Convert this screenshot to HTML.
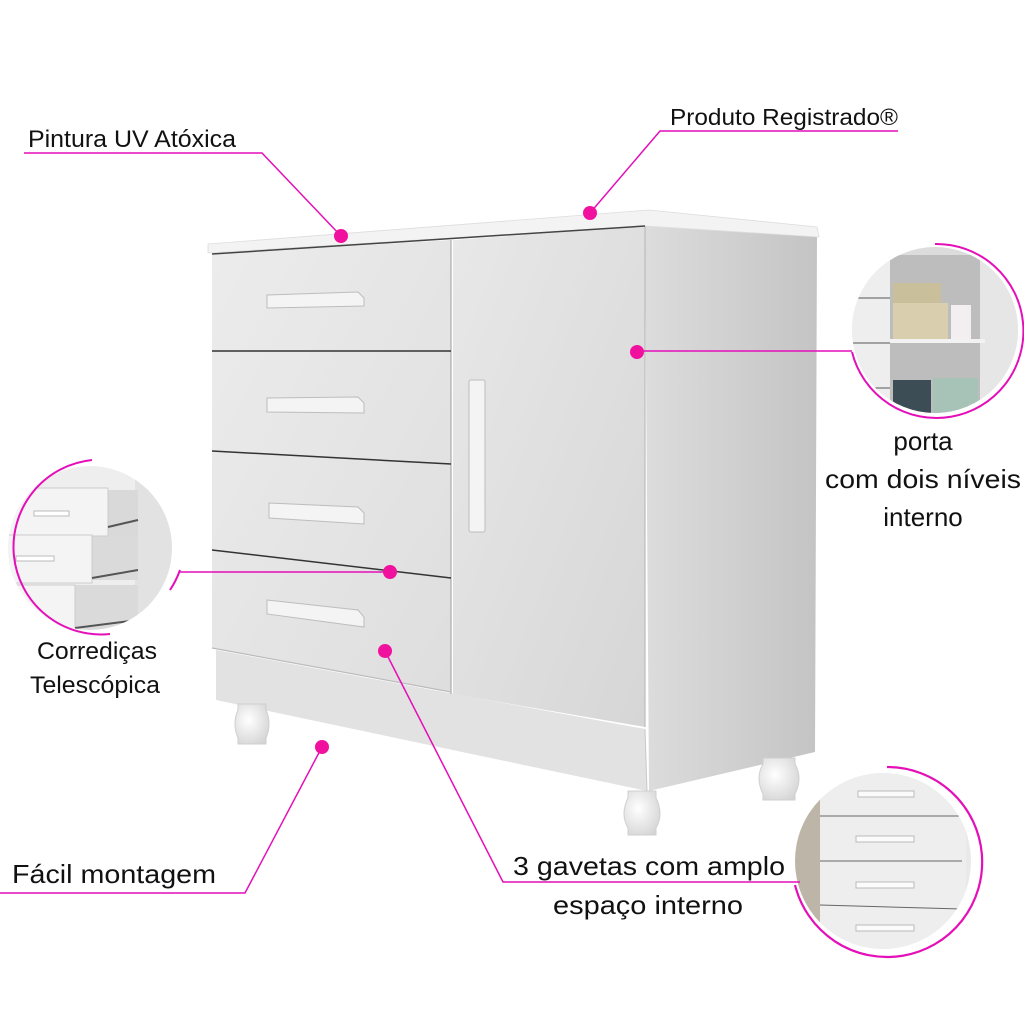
<!DOCTYPE html>
<html><head><meta charset="utf-8"><style>
html,body{margin:0;padding:0;background:#fff;}
svg{display:block;}
text{font-family:"Liberation Sans",sans-serif;fill:#111;}
</style></head><body>
<svg width="1024" height="1024" viewBox="0 0 1024 1024" xmlns="http://www.w3.org/2000/svg">
<defs>
<linearGradient id="side" x1="0" y1="0" x2="1" y2="0"><stop offset="0" stop-color="#dcdcdc"/><stop offset="1" stop-color="#c4c4c4"/></linearGradient>
<linearGradient id="front" x1="0" y1="0" x2="1" y2="1"><stop offset="0" stop-color="#ececec"/><stop offset="1" stop-color="#dedede"/></linearGradient>
<linearGradient id="door" x1="0" y1="0" x2="1" y2="1"><stop offset="0" stop-color="#e8e8e8"/><stop offset="1" stop-color="#d6d6d6"/></linearGradient>
<radialGradient id="foot" cx="0.4" cy="0.4" r="0.7"><stop offset="0" stop-color="#ffffff"/><stop offset="1" stop-color="#d4d4d4"/></radialGradient>
<clipPath id="c1"><circle cx="935" cy="330" r="83"/></clipPath>
<clipPath id="c2"><circle cx="90" cy="548" r="82"/></clipPath>
<clipPath id="c3"><circle cx="883" cy="861" r="88"/></clipPath>
</defs>

<!-- cabinet side -->
<polygon points="645,224 817,237 815,752 649,791" fill="url(#side)"/>
<!-- plinth front -->
<polygon points="216,650 645,729 647,791 216,700" fill="#e2e2e2"/>
<line x1="645" y1="729" x2="647" y2="791" stroke="#c8c8c8"/>
<!-- drawers front -->
<polygon points="212,254 451,240 451,692 212,648" fill="url(#front)"/>
<!-- door -->
<polygon points="453,240 645,226 645,727 453,694" fill="url(#door)"/>
<line x1="451" y1="240" x2="451" y2="694" stroke="#aaa" stroke-width="1.2"/>
<line x1="645" y1="226" x2="645" y2="727" stroke="#bbb" stroke-width="1.2"/>
<!-- drawer lines -->
<line x1="212" y1="351" x2="451" y2="351" stroke="#333" stroke-width="1.5"/>
<line x1="212" y1="451" x2="451" y2="464" stroke="#333" stroke-width="1.5"/>
<line x1="212" y1="550" x2="451" y2="578" stroke="#333" stroke-width="1.5"/>
<line x1="212" y1="648" x2="451" y2="692" stroke="#bbb" stroke-width="1.2"/>
<!-- top slab -->
<polygon points="208,244 649,210 817,227 819,237 645,226 208,253" fill="#f3f3f3" stroke="#ddd" stroke-width="0.8"/>
<line x1="212" y1="254" x2="645" y2="226" stroke="#444" stroke-width="1.5"/>
<!-- handles -->
<g fill="#f4f4f4" stroke="#bdbdbd" stroke-width="1">
<polygon points="267,295 358,292 364,298 364,306 267,308"/>
<polygon points="267,398 358,397 364,403 364,413 267,412"/>
<polygon points="269,503 358,507 364,513 364,524 269,518"/>
<polygon points="267,600 358,610 364,617 364,627 267,614"/>
<rect x="469" y="380" width="16" height="152" rx="2"/>
</g>
<!-- feet -->
<g fill="url(#foot)" stroke="#cfcfcf">
<path d="M238,704 h28 v6 q6,14 0,28 v6 h-28 v-6 q-6,-14 0,-28z"/>
<path d="M628,791 h28 v7 q8,16 0,30 v7 h-28 v-7 q-8,-14 0,-30z"/>
<path d="M763,758 h32 v6 q8,14 0,30 v6 h-32 v-6 q-8,-16 0,-30z"/>
</g>

<!-- circle 1: interior -->
<g clip-path="url(#c1)">
<rect x="850" y="245" width="170" height="170" fill="#dcdcdc"/>
<rect x="850" y="245" width="40" height="170" fill="#eeeeee"/>
<rect x="890" y="255" width="90" height="160" fill="#bdbdbd"/>
<rect x="980" y="250" width="40" height="170" fill="#e6e6e6"/>
<rect x="893" y="283" width="48" height="20" fill="#c9bf9a"/>
<rect x="893" y="303" width="55" height="36" fill="#d9cfae"/>
<rect x="951" y="305" width="20" height="34" fill="#f3eef0"/>
<rect x="890" y="339" width="95" height="4" fill="#f2f2f2"/>
<rect x="893" y="380" width="38" height="35" fill="#3d4d55"/>
<rect x="933" y="378" width="45" height="37" fill="#a7c3b8"/>
<line x1="850" y1="298" x2="890" y2="298" stroke="#555"/>
<line x1="850" y1="343" x2="890" y2="343" stroke="#555"/>
<line x1="850" y1="388" x2="890" y2="388" stroke="#555"/>
</g>
<path d="M935,244 A87,87 0 1 1 852,352" fill="none" stroke="#e40fb8" stroke-width="2"/>

<!-- circle 2: drawers -->
<g clip-path="url(#c2)">
<rect x="5" y="465" width="170" height="170" fill="#eeeeee"/>
<rect x="135" y="465" width="40" height="170" fill="#e2e2e2"/>
<rect x="108" y="490" width="30" height="45" fill="#d9d9d9"/>
<rect x="92" y="535" width="46" height="45" fill="#dadada"/>
<rect x="75" y="585" width="63" height="45" fill="#dadada"/>
<rect x="5" y="488" width="103" height="48" fill="#f4f4f4" stroke="#ccc"/>
<rect x="5" y="535" width="87" height="48" fill="#f4f4f4" stroke="#ccc"/>
<rect x="5" y="585" width="70" height="50" fill="#f4f4f4" stroke="#ccc"/>
<rect x="34" y="511" width="35" height="5" fill="#fff" stroke="#bbb"/>
<rect x="16" y="556" width="38" height="5" fill="#fff" stroke="#bbb"/>
<line x1="108" y1="527" x2="138" y2="520" stroke="#555" stroke-width="2"/>
<line x1="92" y1="578" x2="138" y2="570" stroke="#555" stroke-width="2"/>
<line x1="75" y1="628" x2="138" y2="620" stroke="#555" stroke-width="2"/>
</g>
<path d="M92,460 A87,87 0 1 0 110,634" fill="none" stroke="#e40fb8" stroke-width="2"/>
<path d="M180,570 A90,90 0 0 1 170,590" fill="none" stroke="#e40fb8" stroke-width="2"/>

<!-- circle 3: chest -->
<g clip-path="url(#c3)">
<rect x="795" y="773" width="180" height="180" fill="#e9e9e9"/>
<rect x="795" y="773" width="25" height="180" fill="#bdb6a8"/>
<rect x="820" y="773" width="146" height="180" fill="#eeeeee"/>
<line x1="820" y1="816" x2="962" y2="816" stroke="#666"/>
<line x1="820" y1="861" x2="962" y2="861" stroke="#666"/>
<line x1="820" y1="905" x2="962" y2="909" stroke="#666"/>
<g fill="#fbfbfb" stroke="#bbb">
<rect x="858" y="791" width="56" height="6"/>
<rect x="856" y="836" width="58" height="6"/>
<rect x="856" y="882" width="58" height="6"/>
<rect x="856" y="925" width="58" height="6"/>
</g>
</g>
<path d="M887,767 A95,95 0 1 1 795,885" fill="none" stroke="#e40fb8" stroke-width="2.2"/>

<!-- callout lines -->
<g stroke="#e40fb8" stroke-width="1.5" fill="none">
<polyline points="24,153 262,153 341,236"/>
<polyline points="898,131 660,131 590,213"/>
<line x1="637" y1="351" x2="852" y2="351"/>
<line x1="180" y1="572" x2="390" y2="572"/>
<polyline points="0,893 245,893 322,747"/>
<polyline points="385,651 503,882 800,882"/>
</g>
<g fill="#f0129e">
<circle cx="341" cy="236" r="7"/>
<circle cx="590" cy="213" r="7"/>
<circle cx="637" cy="352" r="7"/>
<circle cx="390" cy="572" r="7"/>
<circle cx="385" cy="651" r="7"/>
<circle cx="322" cy="747" r="7"/>
</g>

<!-- labels -->
<text x="28" y="147" font-size="24" textLength="208" lengthAdjust="spacingAndGlyphs">Pintura UV Atóxica</text>
<text x="670" y="125" font-size="23" textLength="228" lengthAdjust="spacingAndGlyphs">Produto Registrado®</text>
<text x="923" y="450" font-size="26" text-anchor="middle">porta</text>
<text x="923" y="488" font-size="26" text-anchor="middle" textLength="196" lengthAdjust="spacingAndGlyphs">com dois níveis</text>
<text x="923" y="526" font-size="26" text-anchor="middle">interno</text>
<text x="97" y="659" font-size="24" text-anchor="middle" textLength="120" lengthAdjust="spacingAndGlyphs">Corrediças</text>
<text x="95" y="693" font-size="24" text-anchor="middle" textLength="130" lengthAdjust="spacingAndGlyphs">Telescópica</text>
<text x="12" y="883" font-size="26" textLength="204" lengthAdjust="spacingAndGlyphs">Fácil montagem</text>
<text x="513" y="875" font-size="26" textLength="272" lengthAdjust="spacingAndGlyphs">3 gavetas com amplo</text>
<text x="553" y="914" font-size="26" textLength="190" lengthAdjust="spacingAndGlyphs">espaço interno</text>
</svg>
</body></html>
